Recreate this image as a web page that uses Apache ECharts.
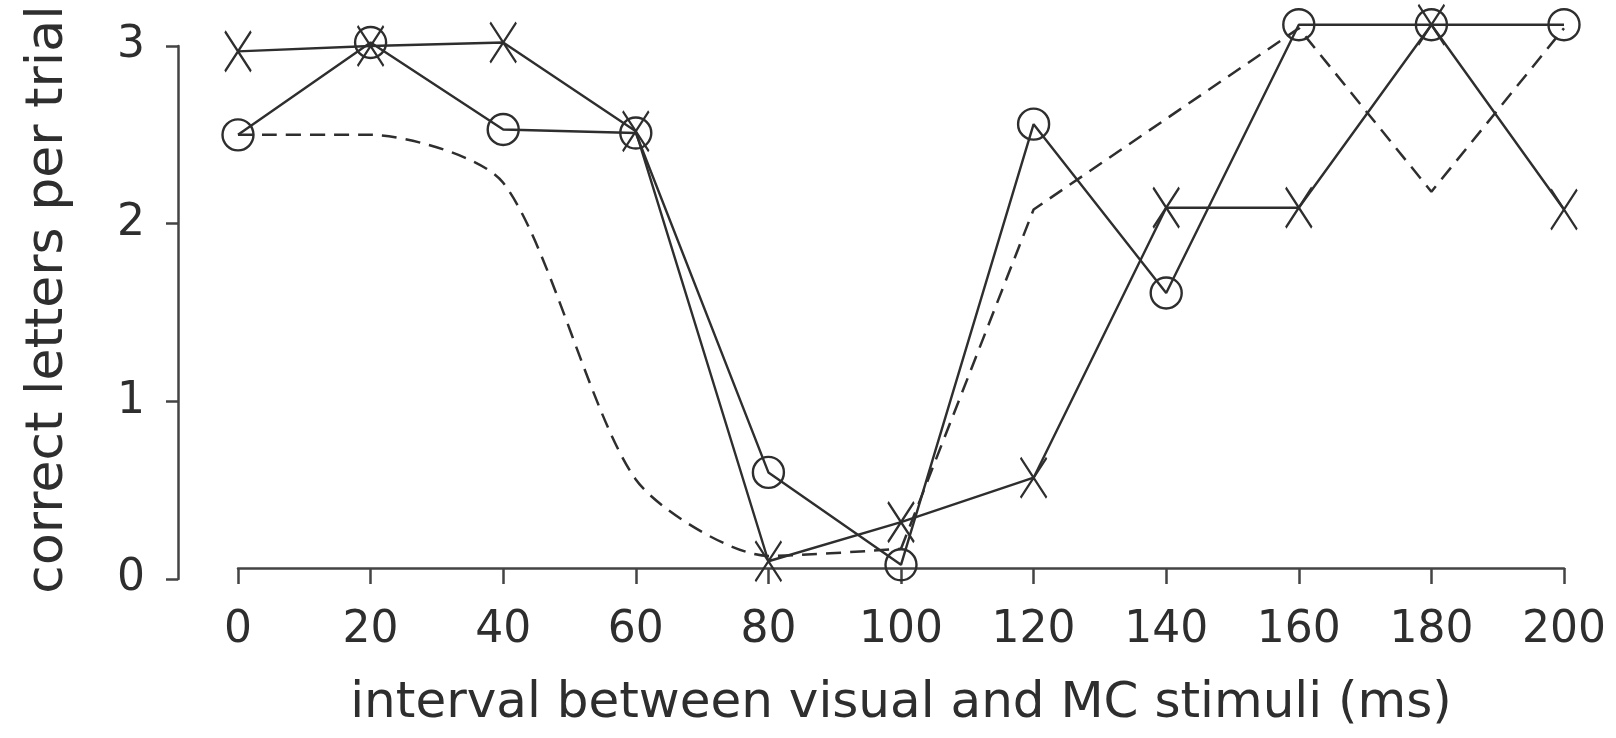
<!DOCTYPE html>
<html>
<head>
<meta charset="utf-8">
<script src="https://cdn.jsdelivr.net/npm/echarts@6/dist/echarts.min.js"></script>
<style>
  html, body { margin: 0; background: #fff; }
  #chart { width: 1616px; height: 738px; }
</style>
</head>
<body>
<div id="chart"></div>
<script>
// interval between visual and MC stimuli (ms)
const intervals = [0, 20, 40, 60, 80, 100, 120, 140, 160, 180, 200];

// correct letters per trial
const crossValues = [2.97, 3.0, 3.02, 2.52, 0.1, 0.32, 0.57, 2.09, 2.09, 3.12, 2.08];
const circleValues = [2.5, 3.02, 2.53, 2.51, 0.6, 0.08, 2.56, 1.61, 3.12, 3.12, 3.12];
const dashedValues = [2.5, 2.5, 2.23, 0.56, 0.13, 0.17, 2.08, 2.59, 3.1, 2.18, 3.1];

const ink = '#2e2e2e';
const font = 'DejaVu Sans';

const pairs = (vals) => intervals.map((x, i) => [x, vals[i]]);

// dashed curve is rounded up to 100 ms, straight after
const dashedPairs = pairs(dashedValues);
const dashedCurve = dashedPairs.slice(0, 6);
const dashedStraight = dashedPairs.slice(5);

const chart = echarts.init(document.getElementById('chart'));

const baseLine = {
  type: 'line',
  animation: false,
  clip: false,
  lineStyle: { color: ink, width: 2.4 },
  itemStyle: { color: 'none', borderColor: ink, borderWidth: 2.4 },
  emphasis: { disabled: true }
};

chart.setOption({
  backgroundColor: '#fff',
  grid: { left: 238, right: 52, top: 46, bottom: 159 },
  xAxis: {
    type: 'value',
    min: 0,
    max: 200,
    interval: 20,
    offset: -11,
    name: 'interval between visual and MC stimuli (ms)',
    nameLocation: 'middle',
    nameGap: 111,
    nameTextStyle: { fontFamily: font, fontSize: 50, color: ink },
    axisLine: { onZero: false, lineStyle: { color: '#444', width: 2.5 } },
    axisTick: { length: 16, lineStyle: { color: '#444', width: 2.5 } },
    axisLabel: { margin: 41, fontFamily: font, fontSize: 44, color: ink },
    splitLine: { show: false }
  },
  yAxis: {
    type: 'value',
    min: 0,
    max: 3,
    interval: 1,
    offset: 60,
    name: 'correct letters per trial',
    nameLocation: 'middle',
    nameGap: 104,
    nameTextStyle: { fontFamily: font, fontSize: 52, color: ink, padding: [0, 0, 0, 26] },
    axisLine: { show: true, onZero: false, lineStyle: { color: '#444', width: 2.5 } },
    axisTick: { show: true, length: 12, lineStyle: { color: '#444', width: 2.5 } },
    axisLabel: { margin: 33, fontFamily: font, fontSize: 44, color: ink },
    splitLine: { show: false }
  },
  series: [
    Object.assign({}, baseLine, {
      name: 'dashed-curve',
      data: dashedCurve,
      smooth: 0.25,
      showSymbol: false,
      symbol: 'none',
      lineStyle: { color: ink, width: 2.5, type: [15, 9] }
    }),
    Object.assign({}, baseLine, {
      name: 'dashed-straight',
      data: dashedStraight,
      showSymbol: false,
      symbol: 'none',
      lineStyle: { color: ink, width: 2.5, type: [15, 9] }
    }),
    Object.assign({}, baseLine, {
      name: 'cross',
      data: pairs(crossValues),
      symbol: 'path://M0,0L25,40M25,0L0,40',
      symbolSize: [26, 40]
    }),
    Object.assign({}, baseLine, {
      name: 'circle',
      data: pairs(circleValues),
      symbol: 'circle',
      symbolSize: 31
    })
  ]
});
</script>
</body>
</html>
